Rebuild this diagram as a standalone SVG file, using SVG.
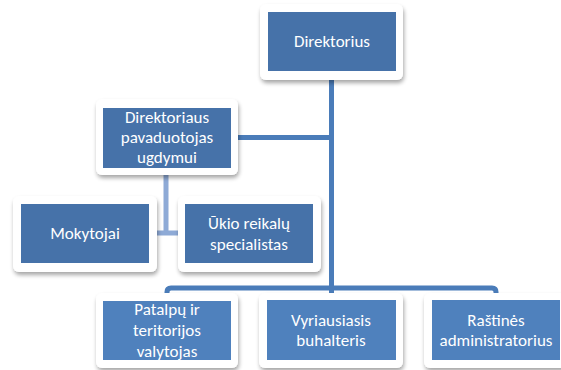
<svg xmlns="http://www.w3.org/2000/svg" width="561" height="370" viewBox="0 0 561 370">
<defs>
<filter id="sh" x="-10%" y="-10%" width="125%" height="130%">
<feGaussianBlur in="SourceAlpha" stdDeviation="2"/>
<feOffset dx="1" dy="3" result="b"/>
<feComponentTransfer><feFuncA type="linear" slope="0.35"/></feComponentTransfer>
<feMerge><feMergeNode/><feMergeNode in="SourceGraphic"/></feMerge>
</filter>
<style>
.card{fill:#ffffff;filter:url(#sh)}
.b1{fill:#4672a9}
.b2{fill:#4f81bd}
.t{font-family:Carlito,Lato,"Liberation Sans",sans-serif;font-size:17px;fill:#ffffff;text-anchor:middle}
.ln{fill:none;stroke:#4a7cb9;stroke-width:5}
.ln2{fill:none;stroke:#8eaad6;stroke-width:5}
</style>
</defs>
<rect width="561" height="370" fill="#ffffff"/>
<g id="connectors">
<path class="ln" d="M331.5,80 V294"/>
<path class="ln" d="M238,137.5 H331.5"/>
<path class="ln" d="M167,294 V292 Q167,288 171,288 H492 Q496,288 496,292 V294"/>
<path class="ln2" d="M166,175 V233 M157,233 H178"/>
</g>
<g id="direktorius">
<rect class="card" x="260" y="4" width="143" height="76" rx="6"/>
<rect class="b1" x="268" y="12" width="128" height="59"/>
<text class="t" x="332" y="47">Direktorius</text>
</g>
<g id="pavaduotojas">
<rect class="card" x="96" y="99" width="142" height="76" rx="6"/>
<rect class="b1" x="103" y="108" width="128" height="60"/>
<text class="t" x="167" y="123">Direktoriaus</text>
<text class="t" x="167" y="143">pavaduotojas</text>
<text class="t" x="167" y="163">ugdymui</text>
</g>
<g id="mokytojai">
<rect class="card" x="13" y="196" width="144" height="76" rx="6"/>
<rect class="b1" x="21" y="204" width="128" height="59"/>
<text class="t" x="85" y="239">Mokytojai</text>
</g>
<g id="ukio">
<rect class="card" x="178" y="196" width="143" height="76" rx="6"/>
<rect class="b1" x="185" y="204" width="128" height="59"/>
<text class="t" x="249" y="229">Ūkio reikalų</text>
<text class="t" x="249" y="250">specialistas</text>
</g>
<g id="patalpu">
<rect class="card" x="96" y="293" width="142" height="75" rx="6"/>
<rect class="b2" x="103" y="301" width="128" height="59"/>
<text class="t" x="167" y="315">Patalpų ir</text>
<text class="t" x="167" y="336">teritorijos</text>
<text class="t" x="167" y="357">valytojas</text>
</g>
<g id="buhalteris">
<rect class="card" x="259" y="293" width="144" height="75" rx="6"/>
<rect class="b2" x="267" y="300" width="129" height="60"/>
<text class="t" x="331" y="326">Vyriausiasis</text>
<text class="t" x="331" y="346">buhalteris</text>
</g>
<g id="rastines">
<rect class="card" x="424" y="293" width="144" height="75" rx="6"/>
<rect class="b2" x="432" y="300" width="128" height="60"/>
<text class="t" x="496" y="326">Raštinės</text>
<text class="t" x="496" y="346">administratorius</text>
</g>
</svg>
